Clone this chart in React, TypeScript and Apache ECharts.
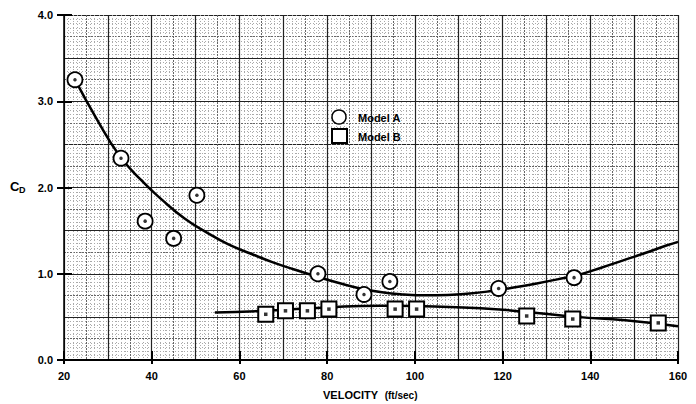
import React, { useEffect, useRef } from "react";
import * as echarts from "echarts";

const modelAX = [22.5, 33, 38.5, 45, 50.3, 77.9, 88.4, 94.3, 119.1, 136.3];
const modelAY = [3.25, 2.34, 1.61, 1.41, 1.91, 1.0, 0.76, 0.91, 0.83, 0.955];
const modelBX = [66, 70.5, 75.5, 80.4, 95.5, 100.4, 125.5, 136, 155.5];
const modelBY = [0.53, 0.57, 0.57, 0.59, 0.59, 0.59, 0.51, 0.475, 0.43];

const fitAX = [22.5, 27.5, 32.5, 37.5, 42.5, 47.5, 52.5, 57.5, 62.5, 67.5, 72.5, 77.5, 82.5, 87.5, 92.5, 97.5, 102.5, 107.5, 112.5, 117.5, 122.5, 127.5, 132.5, 137.5, 142.5, 147.5, 152.5, 157.5];
const fitAY = [3.25, 2.79, 2.38, 2.09, 1.85, 1.64, 1.48, 1.34, 1.235, 1.135, 1.05, 0.97, 0.895, 0.83, 0.785, 0.76, 0.75, 0.755, 0.77, 0.8, 0.84, 0.885, 0.935, 0.99, 1.07, 1.155, 1.24, 1.33];
const fitBX = [54.4, 66, 80, 92, 100, 115, 125, 137, 148, 160];
const fitBY = [0.55, 0.57, 0.61, 0.63, 0.625, 0.6, 0.56, 0.5, 0.46, 0.39];

const xTicks = [20, 40, 60, 80, 100, 120, 140, 160];
const yTicks = [0, 1, 2, 3, 4];

const FONT = "'Liberation Sans', Arial, sans-serif";

const zip = (xs: number[], ys: number[]) => xs.map((x, i) => [x, ys[i]]);

export default function App() {
  const ref = useRef<HTMLDivElement>(null);
  useEffect(() => {
    if (!ref.current) return;
    const chart = echarts.init(ref.current, null, { renderer: "svg" });
    const xBase = { type: "value", min: xTicks[0], max: xTicks[xTicks.length - 1], position: "bottom" };
    const yBase = { type: "value", min: yTicks[0], max: yTicks[yTicks.length - 1], position: "left" };
    const off = { axisLine: { show: false }, axisTick: { show: false }, axisLabel: { show: false }, splitLine: { show: false } };
    const option: any = {
      animation: false,
      backgroundColor: "#fff",
      grid: { left: 64, right: 18, top: 15, bottom: 44, containLabel: false },
      xAxis: [
        {
          ...xBase, ...off, interval: 5,
          splitLine: { show: true, lineStyle: { color: "#666", width: 1, type: [2, 1] } },
          minorTick: { show: false, splitNumber: 5 },
          minorSplitLine: { show: true, lineStyle: { color: "#aaa", width: 1, type: [1, 2] } },
        },
        { ...xBase, ...off, interval: 10, splitLine: { show: true, lineStyle: { color: "#222", width: 1.2 } } },
        {
          ...xBase, ...off, interval: 20,
          axisLine: { show: true, onZero: false, lineStyle: { color: "#000", width: 2 } },
          axisTick: { show: true, inside: false, length: 4, lineStyle: { color: "#000", width: 2 } },
          axisLabel: {
            show: true, margin: 10, color: "#000", fontFamily: FONT, fontWeight: "bold", fontSize: 11,
            formatter: (v: number) => String(v),
          },
        },
        {
          ...xBase, ...off, interval: 20,
          axisTick: { show: true, inside: true, length: 9, lineStyle: { color: "#000", width: 2 } },
        },
      ],
      yAxis: [
        {
          ...yBase, ...off, interval: 0.25,
          splitLine: { show: true, lineStyle: { color: "#666", width: 1, type: [2, 1] } },
          minorTick: { show: false, splitNumber: 5 },
          minorSplitLine: { show: true, lineStyle: { color: "#aaa", width: 1, type: [1, 2] } },
        },
        { ...yBase, ...off, interval: 0.5, splitLine: { show: true, lineStyle: { color: "#222", width: 1.2 } } },
        {
          ...yBase, ...off, interval: 1,
          axisLine: { show: true, onZero: false, lineStyle: { color: "#000", width: 1.5 } },
          axisTick: { show: true, inside: false, length: 7, lineStyle: { color: "#000", width: 2 } },
          axisLabel: {
            show: true, margin: 11, color: "#000", fontFamily: FONT, fontWeight: "bold", fontSize: 11,
            formatter: (v: number) => v.toFixed(1),
          },
        },
        {
          ...yBase, ...off, interval: 1,
          axisTick: { show: true, inside: true, length: 8, lineStyle: { color: "#000", width: 2 } },
        },
      ],
      series: [
        {
          name: "Model A fit", type: "line", xAxisIndex: 0, yAxisIndex: 0, smooth: 0.5, showSymbol: false,
          lineStyle: { color: "#000", width: 2.5 }, data: zip(fitAX, fitAY).concat([[160, 1.37]]), z: 3,
        },
        {
          name: "Model B fit", type: "line", xAxisIndex: 0, yAxisIndex: 0, smooth: 0.5, showSymbol: false,
          lineStyle: { color: "#000", width: 2.5 }, data: zip(fitBX, fitBY), z: 3,
        },
        {
          name: "Model A", type: "scatter", xAxisIndex: 0, yAxisIndex: 0, symbol: "circle", symbolSize: 15,
          itemStyle: { color: "#fff", borderColor: "#000", borderWidth: 1.8, opacity: 1 }, data: zip(modelAX, modelAY), z: 4,
        },
        {
          name: "Model B", type: "scatter", xAxisIndex: 0, yAxisIndex: 0, symbol: "rect", symbolSize: 15,
          itemStyle: { color: "#fff", borderColor: "#000", borderWidth: 2, opacity: 1 }, data: zip(modelBX, modelBY), z: 4,
        },
        {
          name: "Model A dots", type: "scatter", xAxisIndex: 0, yAxisIndex: 0, symbol: "circle", symbolSize: 3.5,
          itemStyle: { color: "#000" }, data: zip(modelAX, modelAY), z: 5,
        },
        {
          name: "Model B dots", type: "scatter", xAxisIndex: 0, yAxisIndex: 0, symbol: "rect", symbolSize: 3.5,
          itemStyle: { color: "#000" }, data: zip(modelBX, modelBY), z: 5,
        },
      ],
      graphic: [
        { type: "circle", shape: { cx: 339, cy: 117, r: 7 }, style: { fill: "#fff", stroke: "#000", lineWidth: 1.5 }, z: 10 },
        { type: "rect", shape: { x: 332, y: 129, width: 15, height: 14 }, style: { fill: "#fff", stroke: "#000", lineWidth: 2 }, z: 10 },
        { type: "text", x: 358, y: 112, style: { text: "Model A", font: `bold 11px ${FONT}`, fill: "#000" }, z: 10 },
        { type: "text", x: 358, y: 131, style: { text: "Model B", font: `bold 11px ${FONT}`, fill: "#000" }, z: 10 },
        { type: "text", x: 10, y: 180, style: { text: "C", font: `bold 13px ${FONT}`, fill: "#000" }, z: 10 },
        { type: "text", x: 19, y: 185, style: { text: "D", font: `bold 9px ${FONT}`, fill: "#000" }, z: 10 },
        {
          type: "text", x: 323, y: 389,
          style: {
            text: "{a|VELOCITY}  {b|(ft/sec)}",
            rich: {
              a: { fill: "#000", fontFamily: FONT, fontWeight: "bold", fontSize: 11 },
              b: { fill: "#000", fontFamily: FONT, fontWeight: "bold", fontSize: 10 },
            },
          },
          z: 10,
        },
      ],
    };
    chart.setOption(option);
    return () => chart.dispose();
  }, []);
  return <div ref={ref} style={{ position: "absolute", left: 0, top: 0, width: 696, height: 404 }} />;
}
